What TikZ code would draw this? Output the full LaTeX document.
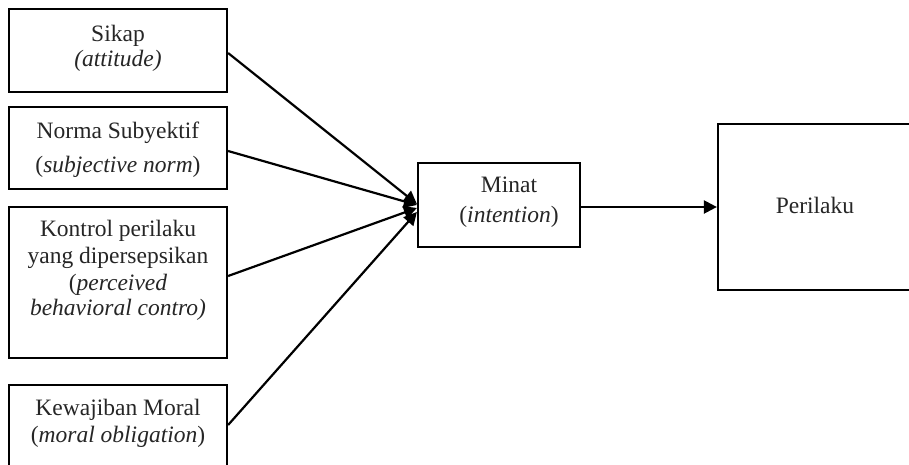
\documentclass[tikz,border=0pt]{standalone}
\usepackage{fontspec}
\setmainfont{Liberation Serif}
\usetikzlibrary{arrows.meta,calc}
\begin{document}
\begin{tikzpicture}[x=1pt,y=-1pt,
  box/.style={draw=black,line width=2.2pt,inner sep=0pt,fill=white},
  lbl/.style={anchor=base,inner sep=0pt,font=\fontsize{23.5}{27}\selectfont,text=black!85},
  conn/.style={line width=2.2pt,-{Triangle[length=13pt,width=13pt]}}]
\useasboundingbox (0,0) rectangle (909,465);
\clip (0,0) rectangle (909,465);
% boxes
\node[box,minimum width=218pt,minimum height=83pt] (b1) at (118,50.5) {};
\node[box,minimum width=218pt,minimum height=82pt] (b2) at (118,148) {};
\node[box,minimum width=218pt,minimum height=151pt] (b3) at (118,282.5) {};
\node[box,minimum width=218pt,minimum height=100pt] (b4) at (118,435) {};
\node[box,minimum width=162pt,minimum height=84pt] (minat) at (499,205) {};
\node[box,minimum width=212pt,minimum height=166pt] (per) at (824,207) {};
% labels
\node[lbl] (t1a) at (118,42) {Sikap};
\node[lbl] (t1b) at (118,67) {\itshape (attitude)};
\node[lbl] (t2a) at (118,139) {Norma Subyektif};
\node[lbl] (t2b) at (118,172) {(\textit{subjective norm})};
\node[lbl] (t3a) at (118,236) {Kontrol perilaku};
\node[lbl] (t3b) at (118,263) {yang dipersepsikan};
\node[lbl] (t3c) at (118,290) {(\textit{perceived}};
\node[lbl] (t3d) at (118,315) {\itshape behavioral contro)};
\node[lbl] (t4a) at (118,415) {Kewajiban Moral};
\node[lbl] (t4b) at (118,442) {(\textit{moral obligation})};
\node[lbl] (tm1) at (509,193) {Minat};
\node[lbl] (tm2) at (509,222) {(\textit{intention})};
\node[lbl] (tp) at (815,213) {Perilaku};
% connectors
\draw[conn] ([yshift=-2.5pt]b1.east) -- ([yshift=1pt]minat.west);
\draw[conn] ([yshift=-3pt]b2.east) -- ([yshift=0pt]minat.west);
\draw[conn] ([yshift=6.5pt]b3.east) -- ([yshift=-3pt]minat.west);
\draw[conn] ([yshift=10pt]b4.east) -- ([yshift=-7pt]minat.west);
\draw[conn] ([yshift=-2pt]minat.east) -- ([yshift=-2pt]minat.east -| per.west);
\end{tikzpicture}
\end{document}
